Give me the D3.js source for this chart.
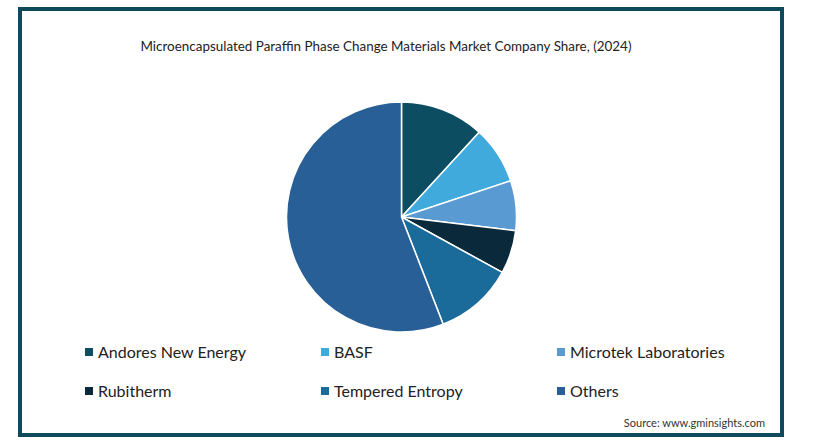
<!DOCTYPE html>
<html>
<head>
<meta charset="utf-8">
<script src="https://cdn.jsdelivr.net/npm/d3@7"></script>
<style>
  html, body { margin: 0; padding: 0; background: #ffffff; }
  svg { display: block; }
</style>
</head>
<body>
<svg id="chart" width="813" height="441"></svg>
<script>
const categories = ["Andores New Energy", "BASF", "Microtek Laboratories", "Rubitherm", "Tempered Entropy", "Others"];
const shares = [11.8, 8.1, 7.0, 6.1, 11.1, 55.9];
const colors = ["#0c4d61", "#41aadd", "#5a9ad3", "#0a2a3c", "#1b6b9a", "#275f96"];
const titleText = "Microencapsulated Paraffin Phase Change Materials Market Company Share, (2024)";
const sourceText = "Source: www.gminsights.com";

const svg = d3.select("#chart");
const font = "'Source Sans Pro', Lato, 'Open Sans', sans-serif";

// frame
svg.append("rect")
  .attr("x", 20).attr("y", 9)
  .attr("width", 762).attr("height", 426)
  .attr("fill", "#ffffff")
  .attr("stroke", "#0e4a5c")
  .attr("stroke-width", 4);

// title
const title = svg.append("text")
  .attr("x", 386).attr("y", 51)
  .attr("text-anchor", "middle")
  .attr("font-family", font)
  .attr("font-size", 13)
  .attr("fill", "#222")
  .text(titleText);
title.attr("textLength", 491).attr("lengthAdjust", "spacingAndGlyphs");

// pie
const cx = 401.5, cy = 217, r = 115;
const pie = d3.pie().sort(null).value(d => d.v);
const arc = d3.arc().innerRadius(0).outerRadius(r);
const data = categories.map((c, i) => ({ c, v: shares[i], col: colors[i] }));
svg.append("g")
  .attr("transform", `translate(${cx},${cy})`)
  .selectAll("path")
  .data(pie(data))
  .join("path")
  .attr("d", arc)
  .attr("fill", d => d.data.col)
  .attr("stroke", "#ffffff")
  .attr("stroke-width", 1.5)
  .attr("stroke-linejoin", "round");

// legend
const colX = d3.scaleOrdinal().domain([0, 1, 2]).range([85, 321, 557]);
const rowY = d3.scaleOrdinal().domain([0, 1]).range([352, 391]);
const lg = svg.append("g");
data.forEach((d, i) => {
  const col = i % 3, row = Math.floor(i / 3);
  const x = colX(col), y = rowY(row);
  lg.append("rect")
    .attr("x", x).attr("y", y - 4)
    .attr("width", 8).attr("height", 8)
    .attr("fill", d.col);
  lg.append("text")
    .attr("x", x + 13).attr("y", y - 1)
    .attr("dominant-baseline", "central")
    .attr("font-family", font)
    .attr("font-size", 16)
    .attr("fill", "#222")
    .text(d.c);
});

// source
svg.append("text")
  .attr("x", 765).attr("y", 427)
  .attr("text-anchor", "end")
  .attr("font-family", font)
  .attr("font-size", 11)
  .attr("fill", "#333")
  .text(sourceText);
</script>
</body>
</html>
